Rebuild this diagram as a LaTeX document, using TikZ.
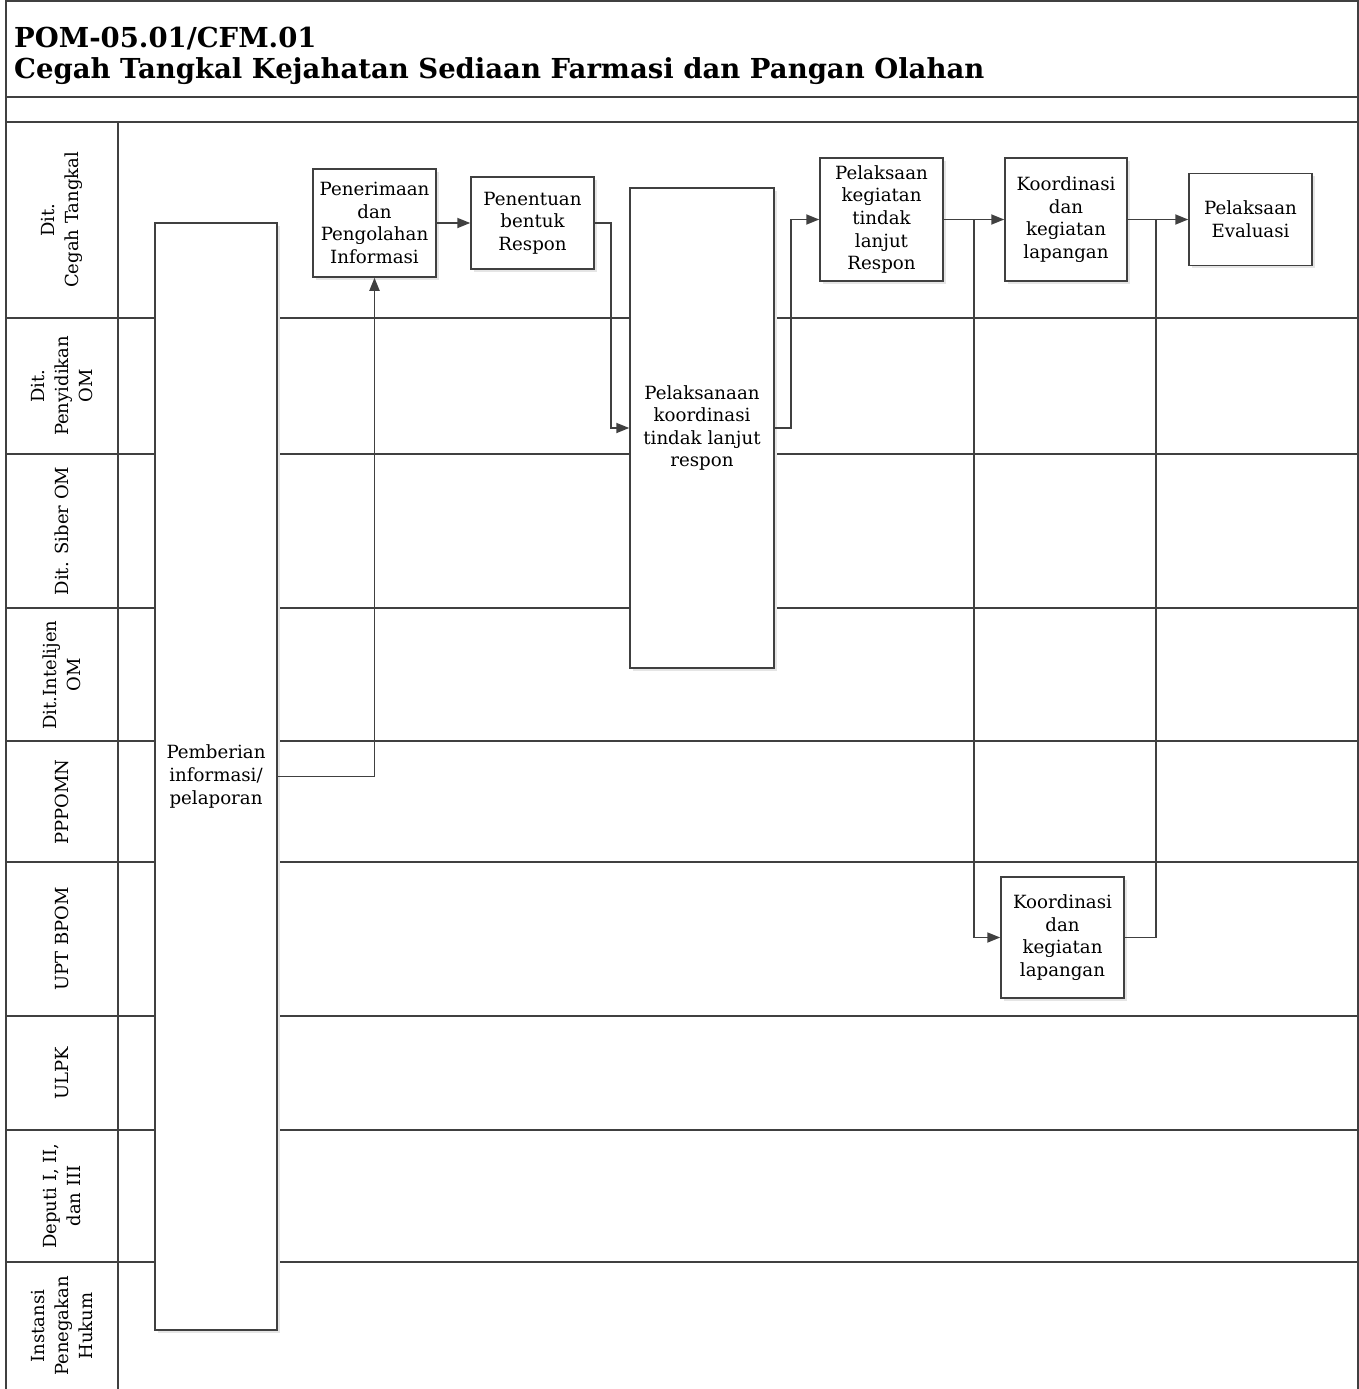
\documentclass[tikz,border=0pt]{standalone}
\usepackage{fontspec}
\setmainfont{DejaVu Serif}
\usetikzlibrary{arrows.meta,shadows}
\definecolor{linegray}{HTML}{404040}

\begin{document}
\begin{tikzpicture}[x=1pt,y=-1pt,
  frame/.style={draw=linegray, line width=1.9pt},
  sep/.style={draw=linegray, line width=1.7pt},
  box/.style={draw=linegray, line width=1.5pt, fill=white, align=center,
    inner sep=0pt, font=\fontsize{18.2}{22.6}\selectfont,
    drop shadow={shadow xshift=2.5pt, shadow yshift=-2.5pt, fill=black!10, opacity=1}},
  lanelabel/.style={rotate=90, align=center, inner sep=0pt,
    font=\fontsize{18}{24}\selectfont},
  titletext/.style={anchor=base west, inner sep=0pt,
    font=\fontsize{27.5}{32}\selectfont\bfseries},
  flow/.style={draw=linegray, line width=1.8pt, -{Triangle[length=13pt,width=10pt]}},
  link/.style={draw=linegray, line width=1.8pt}
]
\useasboundingbox (0,0) rectangle (1359,1389);

% outer frame and header rows
\draw[frame] (6,1389) -- (6,1) -- (1358,1) -- (1358,1389);
\draw[sep] (6,97) -- (1358,97);
\draw[sep] (6,122) -- (1358,122);
\draw[sep] (118,122) -- (118,1389);

% lane separators
\foreach \yy in {318,454,608,741,862,1016,1130,1262}
  \draw[sep] (6,\yy) -- (1358,\yy);

% title
\node[titletext] (code) at (14,48) {POM-05.01/CFM.01};
\node[titletext] (title) at (14,78) {Cegah Tangkal Kejahatan Sediaan Farmasi dan Pangan Olahan};

% lane labels
\node[lanelabel] (l1) at (62,220) {Dit.\\Cegah Tangkal};
\node[lanelabel] (l2) at (62,386) {Dit.\\Penyidikan\\OM};
\node[lanelabel] (l3) at (62,531) {Dit. Siber OM};
\node[lanelabel] (l4) at (62,675) {Dit.Intelijen\\OM};
\node[lanelabel] (l5) at (62,802) {PPPOMN};
\node[lanelabel] (l6) at (62,939) {UPT BPOM};
\node[lanelabel] (l7) at (62,1073) {ULPK};
\node[lanelabel] (l8) at (62,1196) {Deputi I, II,\\dan III};
\node[lanelabel] (l9) at (62,1326) {Instansi\\Penegakan\\Hukum};

% process boxes
\node[box, minimum width=122pt, minimum height=1107pt] (give) at (216,776.5)
  {Pemberian\\informasi/\\pelaporan};
\node[box, minimum width=123pt, minimum height=108pt] (recv) at (374.5,223)
  {Penerimaan\\dan\\Pengolahan\\Informasi};
\node[box, minimum width=123pt, minimum height=92pt] (resp) at (532.5,223)
  {Penentuan\\bentuk\\Respon};
\node[box, minimum width=144pt, minimum height=480pt] (coord) at (702,428)
  {Pelaksanaan\\koordinasi\\tindak lanjut\\respon};
\node[box, minimum width=123pt, minimum height=123pt] (act) at (881.5,219.5)
  {Pelaksaan\\kegiatan\\tindak\\lanjut\\Respon};
\node[box, minimum width=122pt, minimum height=123pt] (field1) at (1066,219.5)
  {Koordinasi\\dan\\kegiatan\\lapangan};
\node[box, minimum width=123pt, minimum height=92pt] (eval) at (1250.5,219.5)
  {Pelaksaan\\Evaluasi};
\node[box, minimum width=123pt, minimum height=121pt] (field2) at (1062.5,937.5)
  {Koordinasi\\dan\\kegiatan\\lapangan};

% junction points
\coordinate (split) at (974,219.5);
\coordinate (merge) at (1156,219.5);

% connectors
\draw[flow] (give.east) -| (recv.south);
\draw[flow] (recv.east) -- (resp.west);
\draw[flow] (resp.east) -- ++(16,0) |- (coord.west);
\draw[flow] (coord.east) -- ++(16,0) |- (act.west);
\draw[flow] (act.east) -- (field1.west);
\draw[flow] (split) |- (field2.west);
\draw[flow] (field1.east) -- (eval.west);
\draw[link] (field2.east) -| (merge);
\end{tikzpicture}
\end{document}
